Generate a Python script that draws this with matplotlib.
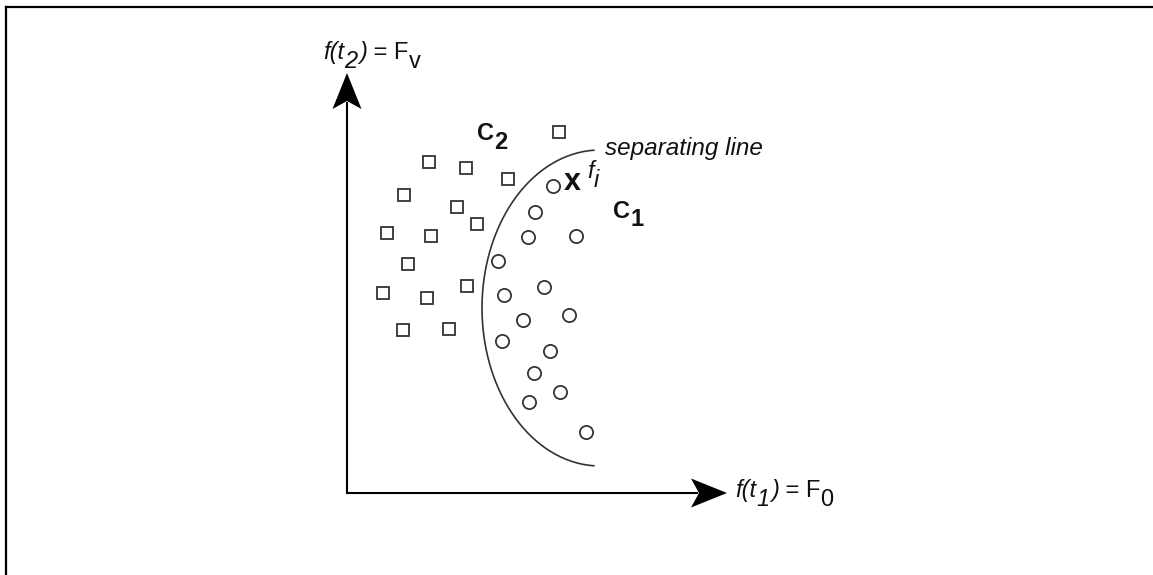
import numpy as np
import matplotlib
matplotlib.use("Agg")
import matplotlib.pyplot as plt

plt.rcParams['font.family'] = ['Liberation Sans', 'DejaVu Sans']

# class C2 samples (squares), pixel-like coordinates of the sketch
c2_x = [559, 429, 466, 508, 404, 457, 477, 387, 431, 408, 467, 383, 427, 403, 449]
c2_y = [132, 162, 168, 179, 195, 207, 224, 233, 236, 264, 286, 293, 298, 330, 329]

# class C1 samples (circles)
c1_x = [553, 535, 528, 576, 498, 504, 544, 523, 569, 502, 550, 534, 560, 529, 586]
c1_y = [186, 212, 237, 236, 261, 295, 287, 320, 315, 341, 351, 373, 392, 402, 432]

# separating line, an elliptic arc
sep_center = (600, 308)
sep_axes = (118, 158)
sep_angles = (93, 267)

origin = (347, 493)
y_axis_top = 73
x_axis_end = 727

ink = '#333333'

fig = plt.figure(figsize=(11.53, 5.75), dpi=100)
ax = fig.add_axes([0, 0, 1, 1])
ax.set_xlim(0, 1153)
ax.set_ylim(575, 0)
ax.axis('off')

# frame (only top and left edges are visible)
ax.plot([5.5, 1153], [6.5, 6.5], color='black', lw=1.6, clip_on=False)
ax.plot([5.5, 5.5], [6.5, 575], color='black', lw=1.6, clip_on=False)


def arrow_head(tip, direction, length=36, half_w=14.5, notch=8):
    tx, ty = tip
    dx, dy = direction
    px, py = -dy, dx
    bx, by = tx - dx * length, ty - dy * length
    nx, ny = tx - dx * (length - notch), ty - dy * (length - notch)
    xs = [tx, bx + px * half_w, nx, bx - px * half_w]
    ys = [ty, by + py * half_w, ny, by - py * half_w]
    ax.fill(xs, ys, color='black', lw=0)


# axes with arrows
ax.plot([origin[0], origin[0]], [origin[1], y_axis_top + 30], color='black', lw=1.5)
ax.plot([origin[0], x_axis_end - 30], [origin[1], origin[1]], color='black', lw=1.5)
arrow_head((origin[0], y_axis_top), (0, -1))
arrow_head((x_axis_end, origin[1]), (1, 0))

# samples
ax.plot(c2_x, c2_y, 's', ms=9, mfc='white', mec=ink, mew=1.3, ls='none')
ax.plot(c1_x, c1_y, 'o', ms=9.5, mfc='white', mec=ink, mew=1.3, ls='none')

# separating curve
t = np.radians(np.linspace(sep_angles[0], sep_angles[1], 200))
ax.plot(sep_center[0] + sep_axes[0] * np.cos(t),
        sep_center[1] - sep_axes[1] * np.sin(t), color=ink, lw=1.2)


def rich_text(x, y, pieces, size):
    """Write text pieces one after another on a shared baseline,
    each piece (text, style, weight, drop in points, extra gap in points)."""
    prev = None
    for s, style, weight, drop, gap in pieces:
        if prev is None:
            xy, coords = (x, y), 'data'
        else:
            xy, coords = (1, y), (prev, 'data')
        prev = ax.annotate(s, xy=xy, xycoords=coords, xytext=(gap, -drop),
                           textcoords='offset points', ha='left', va='baseline',
                           fontsize=size, fontstyle=style, fontweight=weight,
                           color='#111111')
    return prev


rich_text(323, 59, [('f(t', 'italic', 'normal', 0, 0), ('2', 'italic', 'normal', 6.5, 0),
                    (')', 'italic', 'normal', 0, 1.5), (' = F', 'normal', 'normal', 0, 0),
                    ('v', 'normal', 'normal', 6.5, 0)], 17)
rich_text(735, 497, [('f(t', 'italic', 'normal', 0, 0), ('1', 'italic', 'normal', 6.5, 0),
                     (')', 'italic', 'normal', 0, 1.5), (' = F', 'normal', 'normal', 0, 0),
                     ('0', 'normal', 'normal', 6.5, 0)], 17)
rich_text(477, 140, [('C', 'normal', 'bold', 0, 0), ('2', 'normal', 'bold', 6.5, 0)], 17)
rich_text(613, 218, [('C', 'normal', 'bold', 0, 0), ('1', 'normal', 'bold', 5.5, 0)], 17)
ax.text(564, 190, 'x', fontsize=22, fontweight='bold', ha='left', va='baseline',
        color='#111111')
rich_text(587, 178, [('f', 'italic', 'normal', 0, 0), ('i', 'italic', 'normal', 6.5, 0)], 17)
ax.text(605, 155, 'separating line', fontsize=17.5, fontstyle='italic',
        ha='left', va='baseline', color='#111111')

fig.savefig('out.png', dpi=100)
